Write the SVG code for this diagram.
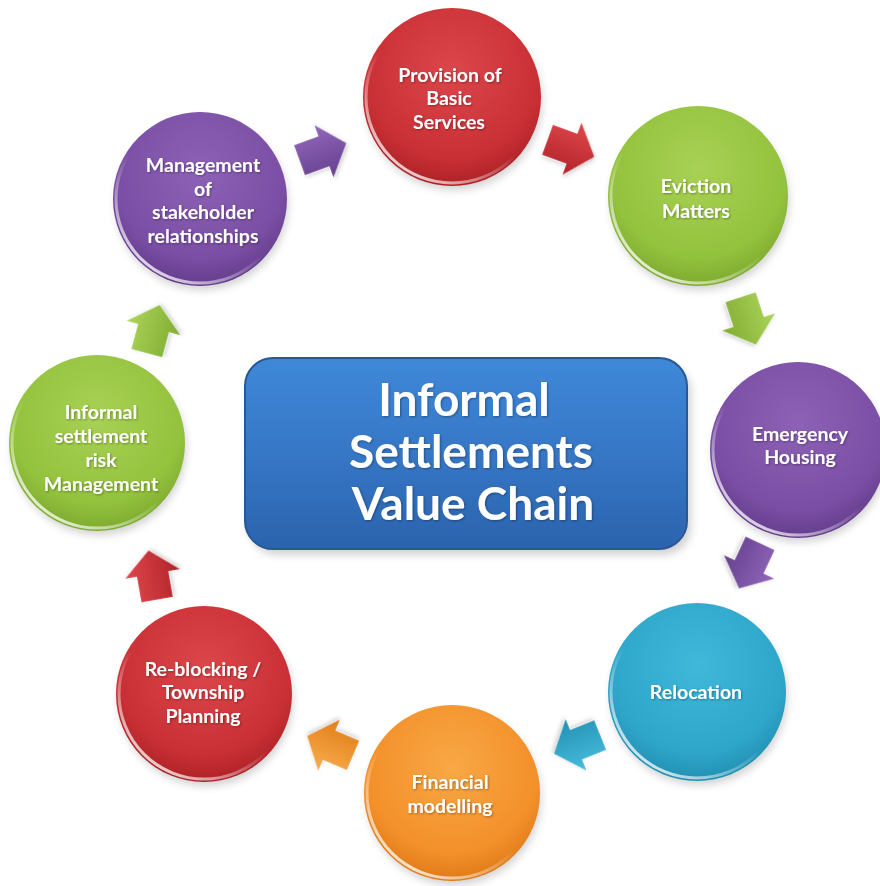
<svg xmlns="http://www.w3.org/2000/svg" width="880" height="886" viewBox="0 0 880 886">
<defs>
<style>
.t{font-family:Lato,"Open Sans","Liberation Sans",sans-serif;font-weight:bold;font-size:19.5px;fill:#fff;text-anchor:middle;filter:url(#ts)}
.title{font-family:Lato,"Open Sans","Liberation Sans",sans-serif;font-weight:bold;font-size:46px;fill:#fff;text-anchor:middle;filter:url(#ts)}
.rim{fill:none;stroke:url(#rimg);stroke-width:3}
.shadow{fill:#000;opacity:0.18;filter:url(#blur)}
.arr{stroke:#fff;stroke-opacity:0.25;stroke-width:1;filter:url(#as)}
</style>
<filter id="blur" x="-20%" y="-20%" width="140%" height="140%"><feGaussianBlur stdDeviation="4"/></filter>
<filter id="as" x="-30%" y="-30%" width="160%" height="160%"><feDropShadow dx="1" dy="2" stdDeviation="2" flood-color="#000" flood-opacity="0.2"/></filter>
<filter id="ts" x="-10%" y="-20%" width="120%" height="140%"><feDropShadow dx="1" dy="1" stdDeviation="0.8" flood-color="#000" flood-opacity="0.35"/></filter>
<linearGradient id="rimg" x1="0.8" y1="0.1" x2="0.2" y2="0.9">
<stop offset="0" stop-color="#fff" stop-opacity="0"/>
<stop offset="0.55" stop-color="#fff" stop-opacity="0"/>
<stop offset="1" stop-color="#fff" stop-opacity="0.75"/>
</linearGradient>
<radialGradient id="gRed" cx="0.5" cy="0.35" r="0.7"><stop offset="0" stop-color="#dc474b"/><stop offset="0.7" stop-color="#c93035"/><stop offset="1" stop-color="#a41d22"/></radialGradient>
<radialGradient id="gGreen" cx="0.5" cy="0.35" r="0.7"><stop offset="0" stop-color="#a8d155"/><stop offset="0.7" stop-color="#93c23d"/><stop offset="1" stop-color="#77a22b"/></radialGradient>
<radialGradient id="gPurple" cx="0.5" cy="0.35" r="0.7"><stop offset="0" stop-color="#8d62b6"/><stop offset="0.7" stop-color="#7a4ea4"/><stop offset="1" stop-color="#5e3786"/></radialGradient>
<radialGradient id="gCyan" cx="0.5" cy="0.35" r="0.7"><stop offset="0" stop-color="#3fb8da"/><stop offset="0.7" stop-color="#2ea6ca"/><stop offset="1" stop-color="#1f88aa"/></radialGradient>
<radialGradient id="gOrange" cx="0.5" cy="0.35" r="0.7"><stop offset="0" stop-color="#f8a845"/><stop offset="0.7" stop-color="#f3902a"/><stop offset="1" stop-color="#d87412"/></radialGradient>
<linearGradient id="aRed" x1="0" y1="0" x2="0" y2="1"><stop offset="0" stop-color="#e0474b"/><stop offset="1" stop-color="#b02328"/></linearGradient>
<linearGradient id="aGreen" x1="0" y1="0" x2="0" y2="1"><stop offset="0" stop-color="#acd45a"/><stop offset="1" stop-color="#7fac30"/></linearGradient>
<linearGradient id="aPurple" x1="0" y1="0" x2="0" y2="1"><stop offset="0" stop-color="#9266bb"/><stop offset="1" stop-color="#65408e"/></linearGradient>
<linearGradient id="aCyan" x1="0" y1="0" x2="0" y2="1"><stop offset="0" stop-color="#48bddd"/><stop offset="1" stop-color="#2290b2"/></linearGradient>
<linearGradient id="aOrange" x1="0" y1="0" x2="0" y2="1"><stop offset="0" stop-color="#f9ad4d"/><stop offset="1" stop-color="#e07d18"/></linearGradient>
<linearGradient id="gBox" x1="0" y1="0" x2="0" y2="1"><stop offset="0" stop-color="#3f88d8"/><stop offset="0.5" stop-color="#3677c6"/><stop offset="1" stop-color="#2b63ad"/></linearGradient>
<path id="arrow" d="M -24,-16 L 2,-16 L 2,-28 L 26,0 L 2,28 L 2,16 L -24,16 Z"/>
</defs>
<rect width="880" height="886" fill="#fff"/>

<g id="connectors">
<use href="#arrow" class="arr" fill="url(#aPurple)" transform="translate(322,152) rotate(-20)"/>
<use href="#arrow" class="arr" fill="url(#aRed)" transform="translate(570,148) rotate(20)"/>
<use href="#arrow" class="arr" fill="url(#aGreen)" transform="translate(748,320) rotate(72)"/>
<use href="#arrow" class="arr" fill="url(#aPurple)" transform="translate(750,565) rotate(115)"/>
<use href="#arrow" class="arr" fill="url(#aCyan)" transform="translate(578,744) rotate(158)"/>
<use href="#arrow" class="arr" fill="url(#aOrange)" transform="translate(331,746) rotate(203)"/>
<use href="#arrow" class="arr" fill="url(#aRed)" transform="translate(153,576) rotate(260)"/>
<use href="#arrow" class="arr" fill="url(#aGreen)" transform="translate(153,330) rotate(285)"/>
</g>

<g id="center">
<rect x="249" y="364" width="442" height="191" rx="28" class="shadow"/>
<rect x="245" y="358" width="442" height="191" rx="28" fill="url(#gBox)" stroke="#2a5896" stroke-width="2"/>
<text class="title" x="464" y="416">Informal</text>
<text class="title" x="471" y="468">Settlements</text>
<text class="title" x="473" y="520">Value Chain</text>
</g>

<g id="provision">
<circle cx="454" cy="102" r="88" class="shadow"/>
<circle cx="452" cy="97" r="89" fill="url(#gRed)"/>
<circle cx="452" cy="97" r="86" class="rim"/>
<text class="t" x="450" y="82">Provision of</text>
<text class="t" x="449" y="105">Basic</text>
<text class="t" x="449" y="129">Services</text>
</g>

<g id="eviction">
<circle cx="700" cy="201" r="89" class="shadow"/>
<circle cx="698" cy="196" r="90" fill="url(#gGreen)"/>
<circle cx="698" cy="196" r="87" class="rim"/>
<text class="t" x="696" y="193">Eviction</text>
<text class="t" x="696" y="218">Matters</text>
</g>

<g id="emergency">
<circle cx="800" cy="455" r="87" class="shadow"/>
<circle cx="798" cy="450" r="88" fill="url(#gPurple)"/>
<circle cx="798" cy="450" r="85" class="rim"/>
<text class="t" x="800" y="441">Emergency</text>
<text class="t" x="800" y="464">Housing</text>
</g>

<g id="relocation">
<circle cx="699" cy="697" r="88" class="shadow"/>
<circle cx="697" cy="692" r="89" fill="url(#gCyan)"/>
<circle cx="697" cy="692" r="86" class="rim"/>
<text class="t" x="696" y="699">Relocation</text>
</g>

<g id="financial">
<circle cx="454" cy="798" r="87" class="shadow"/>
<circle cx="452" cy="793" r="88" fill="url(#gOrange)"/>
<circle cx="452" cy="793" r="85" class="rim"/>
<text class="t" x="450" y="789">Financial</text>
<text class="t" x="450" y="813">modelling</text>
</g>

<g id="reblocking">
<circle cx="206" cy="699" r="87" class="shadow"/>
<circle cx="204" cy="694" r="88" fill="url(#gRed)"/>
<circle cx="204" cy="694" r="85" class="rim"/>
<text class="t" x="203" y="676">Re-blocking /</text>
<text class="t" x="203" y="699">Township</text>
<text class="t" x="203" y="723">Planning</text>
</g>

<g id="risk">
<circle cx="99" cy="448" r="87" class="shadow"/>
<circle cx="97" cy="443" r="88" fill="url(#gGreen)"/>
<circle cx="97" cy="443" r="85" class="rim"/>
<text class="t" x="101" y="419">Informal</text>
<text class="t" x="101" y="443">settlement</text>
<text class="t" x="101" y="467">risk</text>
<text class="t" x="101" y="491">Management</text>
</g>

<g id="stakeholder">
<circle cx="202" cy="204" r="86" class="shadow"/>
<circle cx="200" cy="199" r="87" fill="url(#gPurple)"/>
<circle cx="200" cy="199" r="84" class="rim"/>
<text class="t" x="203" y="172">Management</text>
<text class="t" x="203" y="196">of</text>
<text class="t" x="203" y="219">stakeholder</text>
<text class="t" x="203" y="243">relationships</text>
</g>
</svg>
